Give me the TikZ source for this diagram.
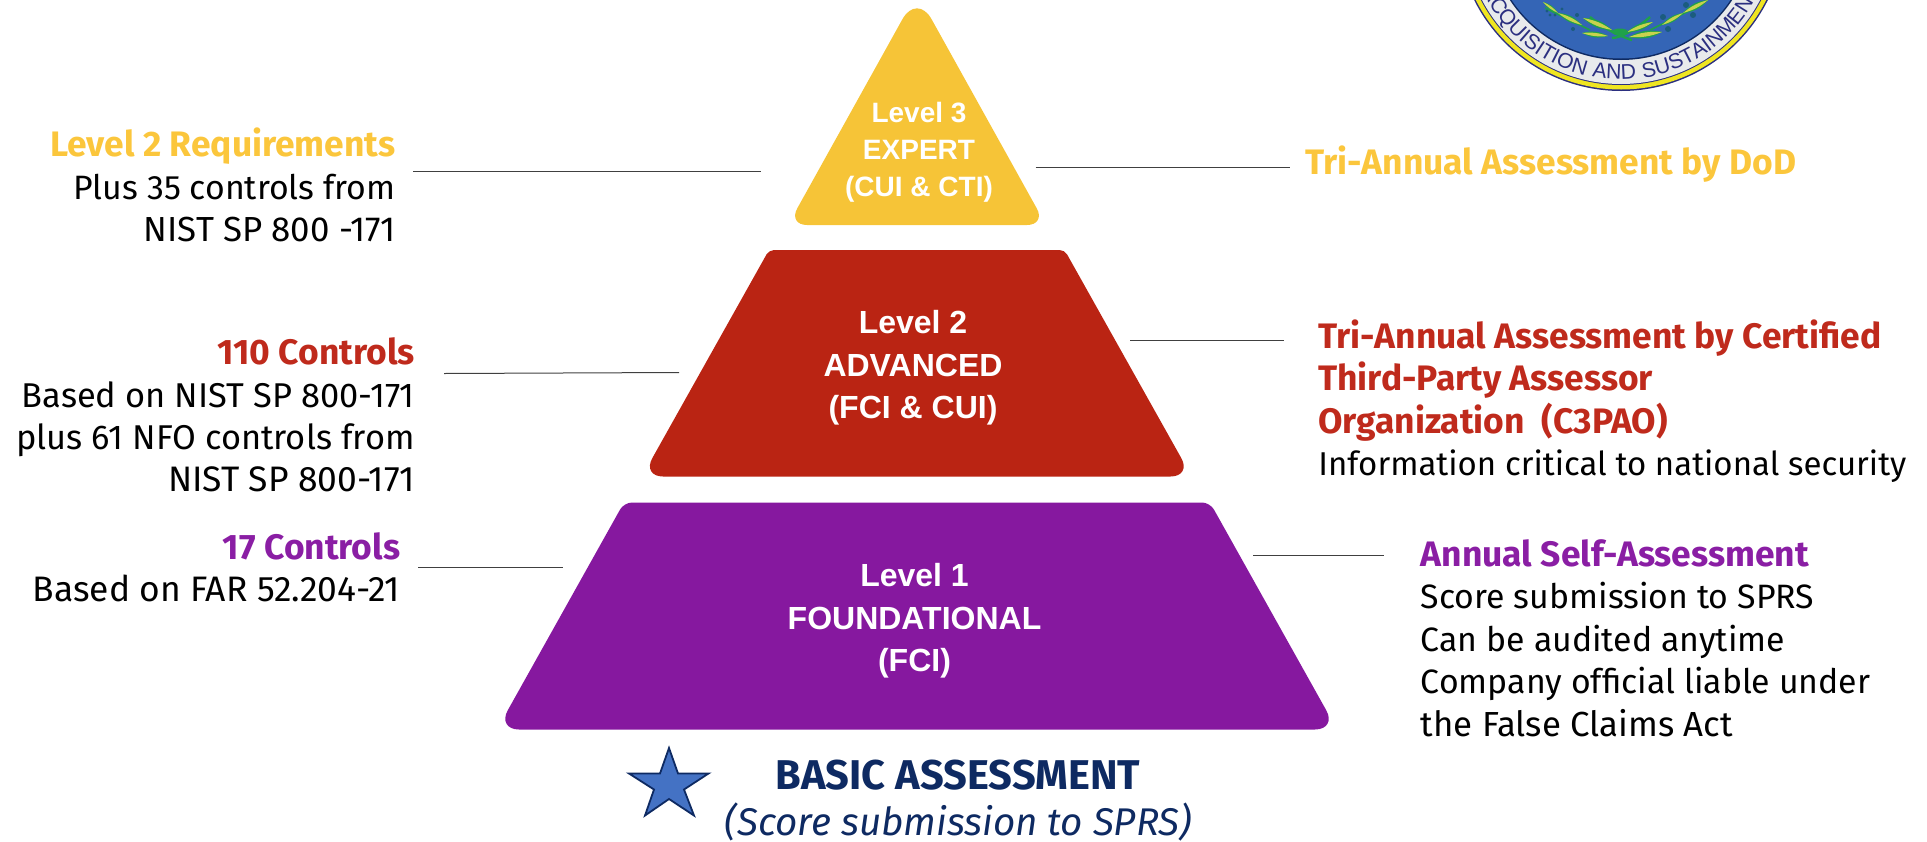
\documentclass[tikz,border=0pt]{standalone}
\usepackage{fontspec}
\setmainfont{Fira Sans}
\newfontfamily\arialfont{Liberation Sans}
\newfontfamily\sealfont[LetterSpace=5]{Liberation Sans}
\usetikzlibrary{decorations.text}
\definecolor{yel}{HTML}{F6C437}
\definecolor{redd}{HTML}{BA2413}
\definecolor{pur}{HTML}{86189F}
\definecolor{yelt}{HTML}{FBC63C}
\definecolor{redt}{HTML}{BF2A1C}
\definecolor{purt}{HTML}{8A1EA4}
\definecolor{navy}{HTML}{0E2A62}
\definecolor{starb}{HTML}{4472C4}
\definecolor{sealblue}{HTML}{3465B6}
\definecolor{sealtext}{HTML}{2B2F80}
\definecolor{sealband}{HTML}{E8EAEC}
\definecolor{sealyel}{HTML}{EFE521}
\definecolor{leafg}{HTML}{1FA14A}
\definecolor{leafy}{HTML}{C8D24E}
\definecolor{berry}{HTML}{1B5C7E}
\tikzset{
 body/.style={font=\fontsize{16.9}{21.2}\selectfont,text=black,inner sep=0pt},
 inlab/.style={font=\arialfont\bfseries\fontsize{16}{21.2}\selectfont,text=white,align=center,inner sep=0pt},
 inlabs/.style={font=\arialfont\bfseries\fontsize{14}{18.5}\selectfont,text=white,align=center,inner sep=0pt},
 leader/.style={draw=black!75,line width=0.5pt},
 leafa/.style={fill=leafg},
 leafb/.style={fill=leafy},
 berrydot/.style={fill=berry},
}
\newcommand{\sealleaf}[4]{\fill[leafa] (#1,#2) to[bend left=22] (#3,#4) to[bend left=22] (#1,#2);
 \fill[leafb] (#1,#2) to[bend left=12] (#3,#4) to[bend left=12] (#1,#2);}
\newcommand{\hd}[2]{\textcolor{#1}{\bfseries\fontsize{17.7}{21.2}\selectfont #2}}
\newcommand{\ls}[2]{{\fontsize{#1}{21.2}\selectfont #2}}
\begin{document}
\begin{tikzpicture}[x=0.5pt,y=-0.5pt]
\useasboundingbox (0,0) rectangle (1927,841);
\begin{scope}
\clip (0,0) rectangle (1927,841);
% seal
\fill[sealtext] (1621,-73) circle (164);
\fill[sealyel] (1621,-73) circle (162.5);
\fill[sealtext] (1621,-73) circle (158);
\fill[sealband] (1621,-73) circle (157);
\fill[navy] (1621,-73) circle (133);
\fill[sealblue] (1621,-73) circle (131.5);
% laurel
\draw[leafg,line width=1.2pt] (1590,17) .. controls (1605,30) and (1625,38) .. (1632,40);
\draw[leafg,line width=1.2pt] (1650,17) .. controls (1635,30) and (1620,38) .. (1612,38);
\draw[leafg,line width=0.8pt] (1545,8) -- (1590,30);
\draw[leafg,line width=0.8pt] (1695,8) -- (1650,30);
\sealleaf{1627}{32}{1653}{22}
\sealleaf{1629}{37}{1662}{32}
\sealleaf{1662}{25}{1683}{13}
\sealleaf{1683}{13}{1708}{0}
\sealleaf{1612}{30}{1583}{18}
\sealleaf{1608}{36}{1582}{33}
\sealleaf{1582}{25}{1558}{13}
\sealleaf{1558}{13}{1543}{2}
\fill[leafg] (1620,32) ellipse (8 and 3.5);
\foreach \bx/\by/\br in {1663/17/3,1668/29/3,1686/5/3,1693/15/3,1577/15/2,1573/29/2,1550/15/1.6,1555/15/1.6,1562/9/1.6,1547/11/1.6}
  \fill[berrydot] (\bx,\by) circle (\br);
\path[decorate,decoration={text along path,text align=center,
 text={|\sealfont\fontsize{10.6}{12}\selectfont\color{sealtext}|ACQUISITION AND SUSTAINMENT}}]
 (1621,-73) ++(165:152.5) arc (165:15:152.5);
\end{scope}
% tiers
\fill[yel] (917,225) [rounded corners=9.5pt] -- (1046,225) [rounded corners=15pt] -- (917,-7) [rounded corners=9.5pt] -- (788,225) -- cycle;
\fill[redd] [rounded corners=2.5pt] (769,250) -- (1064.6,250) [rounded corners=10.5pt] -- (1191.6,476.5) -- (642,476.5) [rounded corners=2.5pt] -- cycle;
\fill[pur] [rounded corners=4pt] (624,502.5) -- (1210,502.5) [rounded corners=11pt] -- (1337,729.5) -- (497,729.5) [rounded corners=4pt] -- cycle;
\node[inlabs] (l3) at (919,152.5) {Level 3\\EXPERT\\(CUI \& CTI)};
\node[inlab] (l2) at (913,368) {Level 2\\ADVANCED\\(FCI \& CUI)};
\node[inlab] (l1) at (914.5,621) {Level 1\\FOUNDATIONAL\\(FCI)};
% outer texts
\node[body,align=right,anchor=east] (tl3) at (396,185) {\hd{yelt}{Level 2 Requirements}\\Plus 35 controls from\\\ls{17.4}{NIST SP 800 -171}};
\node[body,align=right,anchor=east] (tl2) at (415,415) {\hd{redt}{110 Controls}\\\ls{17.2}{Based on NIST SP 800-171}\\\ls{17.2}{plus 61 NFO controls from}\hspace*{2.5pt}\\\ls{17.7}{NIST SP 800-171}};
\node[body,align=right,anchor=east] (tl1) at (400.6,567) {\hd{purt}{17 Controls}\\\ls{17.7}{Based on FAR 52.204-21}};
\node[body,align=left,anchor=west] (tr3) at (1305,164.5) {\hd{yelt}{Tri-Annual Assessment by DoD}};
\node[body,align=left,anchor=west] (tr2) at (1318,401) {\hd{redt}{Tri-Annual Assessment by Certified}\\\hd{redt}{Third-Party Assessor}\\\hd{redt}{Organization\ \ (C3PAO)}\\\ls{16.5}{Information critical to national security}};
\node[body,align=left,anchor=west] (tr1) at (1420.5,638) {\hd{purt}{Annual Self-Assessment}\\Score submission to SPRS\\Can be audited anytime\\Company official liable under\\\ls{17.4}{the False Claims Act}};
% leaders
\coordinate (a1) at (413,171); \coordinate (a2) at (761,171);
\coordinate (b1) at (444,373.5); \coordinate (b2) at (679,372.5);
\coordinate (c1) at (418,567.7); \coordinate (c2) at (562.7,567.7);
\coordinate (d1) at (1035.6,167); \coordinate (d2) at (1289.5,167);
\coordinate (e1) at (1130,340.7); \coordinate (e2) at (1283.7,340.7);
\coordinate (f1) at (1253,555); \coordinate (f2) at (1383.6,555);
\draw[leader] (a1) -- (a2);
\draw[leader] (b1) -- (b2);
\draw[leader] (c1) -- (c2);
\draw[leader] (d1) -- (d2);
\draw[leader] (e1) -- (e2);
\draw[leader] (f1) -- (f2);
% star and basic assessment
\draw[fill=starb,draw=navy,line width=0.9pt,line join=miter] (669,748) -- (678,773.5) -- (708.5,773.5) -- (684,789.5) -- (694,815.5) -- (669,799) -- (645,815.5) -- (654,789.5) -- (629,773.5) -- (660,773.5) -- cycle;
\node[inner sep=0pt,text=navy,font=\bfseries\fontsize{20.8}{24}\selectfont] (ba) at (958,775) {BASIC ASSESSMENT};
\node[inner sep=0pt,text=navy,font=\itshape\fontsize{19.3}{24}\selectfont] (bs) at (958.5,822) {(Score submission to SPRS)};
\end{tikzpicture}
\end{document}
